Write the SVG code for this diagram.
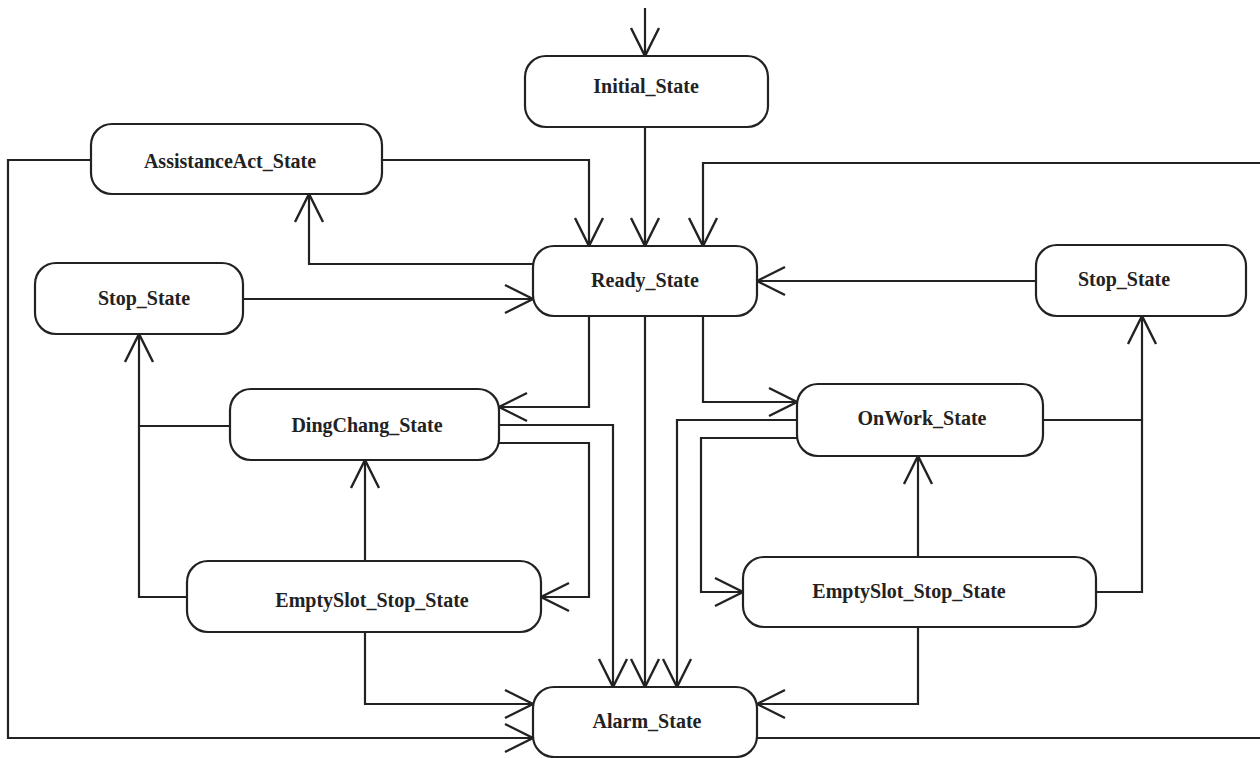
<svg xmlns="http://www.w3.org/2000/svg" width="1260" height="758" viewBox="0 0 1260 758">
<style>
.box{fill:#fff;stroke:#222;stroke-width:2.2}
.lbl{font-family:"Liberation Serif","Times New Roman",serif;font-weight:bold;font-size:20px;fill:#222;text-anchor:middle}
.c{fill:none;stroke:#222;stroke-width:2.2}
.a{marker-end:url(#arr)}
</style>
<defs>
<marker id="arr" markerUnits="userSpaceOnUse" markerWidth="40" markerHeight="40" viewBox="-32 -20 40 40" refX="0" refY="0" orient="auto">
<path d="M-28,-14 L0,0 L-28,14" fill="none" stroke="#222" stroke-width="2.4"/>
</marker>
</defs>
<rect width="1260" height="758" fill="#fff"/>
<g id="connectors">
<path class="c a" d="M645,8 V56"/>
<path class="c a" d="M645,127 V246"/>
<path class="c a" d="M382,160 H589 V246"/>
<path class="c a" d="M1260,163 H703 V246"/>
<path class="c a" d="M533,264 H309 V194"/>
<path class="c a" d="M243,299 H533"/>
<path class="c a" d="M1036,281 H757"/>
<path class="c a" d="M230,426 H139 V334"/>
<path class="c" d="M187,597 H139 V426"/>
<path class="c a" d="M365,561 V460"/>
<path class="c a" d="M589,316 V407 H499"/>
<path class="c a" d="M499,425 H613 V687"/>
<path class="c a" d="M499,443 H589 V597 H541"/>
<path class="c a" d="M645,316 V687"/>
<path class="c a" d="M703,316 V402 H797"/>
<path class="c a" d="M797,420 H677 V687"/>
<path class="c a" d="M797,438 H701 V592 H743"/>
<path class="c a" d="M918,557 V456"/>
<path class="c a" d="M1043,420 H1142 V316"/>
<path class="c" d="M1096,592 H1142 V420"/>
<path class="c a" d="M365,632 V704 H533"/>
<path class="c a" d="M918,627 V704 H757"/>
<path class="c a" d="M91,160 H8 V738 H533"/>
<path class="c" d="M757,738 H1260"/>
</g>
<g id="initial"><rect class="box" x="525" y="56" width="243" height="71" rx="21"/><text class="lbl" x="646" y="93">Initial_State</text></g>
<g id="assist"><rect class="box" x="91" y="124" width="291" height="70" rx="21"/><text class="lbl" x="230" y="168">AssistanceAct_State</text></g>
<g id="ready"><rect class="box" x="533" y="246" width="224" height="70" rx="21"/><text class="lbl" x="645" y="287">Ready_State</text></g>
<g id="stopL"><rect class="box" x="35" y="263" width="208" height="71" rx="21"/><text class="lbl" x="144" y="305">Stop_State</text></g>
<g id="stopR"><rect class="box" x="1036" y="245" width="210" height="71" rx="21"/><text class="lbl" x="1124" y="286">Stop_State</text></g>
<g id="dingchang"><rect class="box" x="230" y="389" width="269" height="71" rx="21"/><text class="lbl" x="367" y="432">DingChang_State</text></g>
<g id="emptyL"><rect class="box" x="187" y="561" width="354" height="71" rx="21"/><text class="lbl" x="372" y="607">EmptySlot_Stop_State</text></g>
<g id="onwork"><rect class="box" x="797" y="384" width="246" height="72" rx="21"/><text class="lbl" x="922" y="425">OnWork_State</text></g>
<g id="emptyR"><rect class="box" x="743" y="557" width="353" height="70" rx="21"/><text class="lbl" x="909" y="598">EmptySlot_Stop_State</text></g>
<g id="alarm"><rect class="box" x="533" y="687" width="224" height="70" rx="21"/><text class="lbl" x="647" y="728">Alarm_State</text></g>
</svg>
